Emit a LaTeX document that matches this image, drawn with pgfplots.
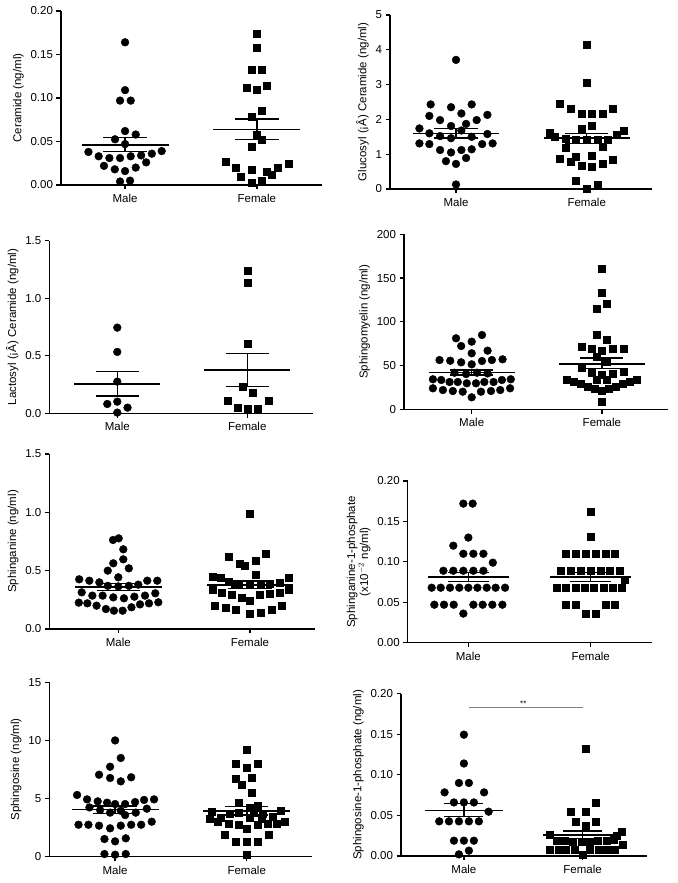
\documentclass[border=0pt]{standalone}
\usepackage{pgfplots}
\pgfplotsset{compat=1.18}
\usepackage{fontspec}
\setmainfont{Liberation Sans}
\newcommand\fsz{\fontsize{11.5}{13}\selectfont}

\pgfplotsset{
  dp/.style={scale only axis, anchor=south west, clip=false,
    axis lines*=left, axis line style={line width=1.3pt,-},
    tick align=outside, major tick length=4.5pt,
    tick style={line width=1.3pt, black},
    xtick={1,2}, xticklabels={Male,Female}, ymin=0,
    ticklabel style={font=\fsz}, label style={font=\fsz},
    /pgf/number format/assume math mode=true,
    xticklabel style={yshift=-1pt}},
  circ/.style={only marks, mark=*, mark size=3.9pt, black},
  sq/.style={only marks, mark=square*, mark size=3.5pt, black},
  stat/.style={black, line width=1.5pt, no marks, forget plot},
  dec2/.style={yticklabel style={/pgf/number format/.cd, fixed, fixed zerofill, precision=2}},
  dec1/.style={yticklabel style={/pgf/number format/.cd, fixed, fixed zerofill, precision=1}},
}
% mean and SEM: mean, lower, upper
\newcommand{\meanM}[3]{%
  \addplot[stat] coordinates {(0.67,#1) (1.33,#1)};
  \addplot[stat] coordinates {(0.835,#2) (1.165,#2)};
  \addplot[stat] coordinates {(0.835,#3) (1.165,#3)};
  \addplot[stat] coordinates {(1,#2) (1,#3)};}
\newcommand{\meanF}[3]{%
  \addplot[stat] coordinates {(1.67,#1) (2.33,#1)};
  \addplot[stat] coordinates {(1.835,#2) (2.165,#2)};
  \addplot[stat] coordinates {(1.835,#3) (2.165,#3)};
  \addplot[stat] coordinates {(2,#2) (2,#3)};}

\begin{document}
\begin{tikzpicture}
\path[use as bounding box] (0,0) rectangle (677pt,883pt);

% Ceramide
\begin{axis}[dp, dec2, at={(61pt,698pt)}, width=261pt, height=174pt,
  xmin=0.514, xmax=2.494, ymax=0.2, ytick={0,0.05,0.1,0.15,0.2},
  ylabel={Ceramide (ng/ml)}]
\addplot[circ] coordinates {(1,0.164)(1,0.109)(0.962,0.097)(1.043,0.097)(1,0.062)(1.081,0.058)(0.924,0.0525)(1,0.047)(0.722,0.038)(1.278,0.039)(0.8,0.033)(0.881,0.031)(0.962,0.031)(1.043,0.033)(1.122,0.034)(1.203,0.036)(1.16,0.026)(0.84,0.022)(0.922,0.018)(1,0.016)(1.081,0.020)(0.962,0.004)(1.038,0.005)};
\addplot[sq] coordinates {(2,0.174)(2,0.158)(1.957,0.132)(2.038,0.132)(1.919,0.1115)(2,0.109)(2.076,0.114)(2.038,0.085)(1.957,0.0785)(2,0.058)(2.038,0.0525)(1.957,0.0437)(1.76,0.0264)(1.838,0.0203)(2.238,0.0245)(2.157,0.020)(2.076,0.0153)(2.116,0.012)(1.957,0.0172)(1.878,0.0096)(1.957,0.003)(2.038,0.0046)};
\meanM{0.046}{0.0383}{0.0544}
\meanF{0.064}{0.052}{0.0759}
\end{axis}

% Glucosyl ceramide
\begin{axis}[dp, at={(390pt,694pt)}, width=261.7pt, height=174pt,
  xmin=0.495, xmax=2.497, ymax=5, ytick={0,1,2,3,4,5},
  ylabel={Glucosyl (¡Â) Ceramide (ng/ml)}]
\addplot[circ] coordinates {(1,3.71)(0.806,2.43)(0.962,2.35)(1.12,2.43)(0.796,2.10)(0.878,1.98)(1.041,2.17)(1.158,1.98)(1.24,2.13)(0.72,1.74)(0.962,1.81)(1.077,1.87)(0.796,1.60)(0.878,1.52)(1.041,1.68)(1.24,1.58)(0.962,1.46)(1.12,1.50)(0.72,1.31)(0.796,1.29)(1.2,1.29)(1.28,1.31)(0.878,1.12)(0.962,1.05)(1.041,1.12)(1.12,1.14)(0.923,0.80)(1,0.72)(1.077,0.89)(1,0.13)};
\addplot[sq] coordinates {(2,4.16)(2,3.04)(1.796,2.46)(1.878,2.30)(1.959,2.17)(2.041,2.17)(2.122,2.17)(2.2,2.32)(1.959,1.72)(2.041,1.81)(1.714,1.62)(2.28,1.67)(2.23,1.57)(1.758,1.50)(1.837,1.44)(1.918,1.41)(2,1.41)(2.082,1.41)(2.163,1.43)(1.837,1.19)(2.122,1.22)(1.796,0.86)(1.918,0.93)(2.041,0.96)(2.2,0.85)(1.878,0.77)(1.959,0.67)(2.041,0.64)(2.122,0.72)(1.918,0.24)(2.082,0.11)(2,0.0)};
\meanM{1.60}{1.47}{1.74}
\meanF{1.46}{1.31}{1.60}
\end{axis}

% Lactosyl ceramide
\begin{axis}[dp, dec1, at={(49.3pt,469.7pt)}, width=264pt, height=172.7pt,
  xmin=0.477, xmax=2.508, ymax=1.5, ytick={0,0.5,1,1.5},
  ylabel={Lactosyl (¡Â) Ceramide (ng/ml)}]
\addplot[circ] coordinates {(1,0.744)(1,0.533)(1,0.275)(0.923,0.081)(1,0.101)(1.079,0.049)(1,0.006)};
\addplot[sq] coordinates {(2,1.24)(2,1.13)(2,0.602)(1.962,0.232)(2.041,0.182)(1.846,0.110)(2.164,0.110)(1.923,0.052)(2,0.038)(2.082,0.043)};
\meanM{0.255}{0.151}{0.362}
\meanF{0.376}{0.232}{0.521}
\end{axis}

% Sphingomyelin
\begin{axis}[dp, at={(404pt,473.7pt)}, width=264.3pt, height=175pt,
  xmin=0.48, xmax=2.51, ymax=200, ytick={0,50,100,150,200},
  ylabel={Sphingomyelin (ng/ml)}]
\addplot[circ] coordinates {(0.88,81.1)(1,77.3)(1.079,84.9)(0.919,72.3)(1.122,67)(1,64)(0.753,56.3)(0.835,55.5)(0.919,53.7)(1,51.4)(1.079,55.2)(1.155,56.3)(1.237,57.1)(0.868,41.8)(0.957,40.3)(1.041,41.8)(1.122,41)(0.702,34.3)(0.766,33.5)(0.83,31.2)(0.893,31.2)(0.962,29.7)(1.033,29.7)(1.097,31.2)(1.168,31.2)(1.232,33.5)(1.3,34.3)(0.702,24)(0.779,22)(0.855,20.9)(0.931,20.1)(1.071,20.1)(1.148,20.9)(1.219,22)(1.295,24)(1,13.7)};
\addplot[sq] coordinates {(2,161)(2,133.3)(2.038,121)(1.962,115.4)(1.962,85)(2.038,80)(1.846,71.6)(1.923,69.7)(2,66.7)(2.085,69.7)(2.167,69.7)(1.962,60.2)(2.038,54)(1.846,47.6)(2.167,43.5)(1.923,41.5)(2.085,41)(2,39.2)(1.962,34.3)(2.038,34.3)(1.733,33.5)(1.786,31.6)(1.84,28.9)(1.893,25.9)(1.947,23.2)(2,21.3)(2.053,23.2)(2.107,25.9)(2.16,28.9)(2.214,31.6)(2.267,33.5)(2,8.7)};
\meanM{42.2}{39.2}{45}
\meanF{52}{46.9}{58.5}
\end{axis}

% Sphinganine
\begin{axis}[dp, dec1, at={(49.3pt,254pt)}, width=265.7pt, height=175pt,
  xmin=0.476, xmax=2.494, ymax=1.5, ytick={0,0.5,1,1.5},
  ylabel={Sphinganine (ng/ml)}]
\addplot[circ] coordinates {(0.96,0.763)(1.003,0.777)(1.038,0.683)(1.038,0.597)(0.962,0.563)(0.92,0.50)(1.08,0.52)(1,0.443)(0.703,0.426)(0.78,0.414)(1.22,0.414)(1.296,0.414)(0.856,0.40)(0.92,0.37)(1,0.365)(1.08,0.37)(1.152,0.38)(0.722,0.314)(0.803,0.286)(0.881,0.286)(0.962,0.271)(1.043,0.263)(1.122,0.277)(1.203,0.286)(1.281,0.306)(0.7,0.226)(0.765,0.22)(0.835,0.2)(0.906,0.171)(0.967,0.157)(1.033,0.157)(1.1,0.186)(1.165,0.211)(1.233,0.22)(1.304,0.229)};
\addplot[sq] coordinates {(2,0.991)(2.122,0.649)(1.838,0.62)(1.919,0.563)(1.962,0.543)(2.041,0.586)(2.041,0.469)(1.719,0.449)(1.78,0.443)(2.291,0.443)(1.835,0.406)(1.886,0.391)(1.911,0.377)(2,0.377)(2.081,0.377)(2.152,0.391)(2.228,0.397)(1.714,0.334)(2.294,0.334)(1.785,0.311)(1.861,0.291)(1.937,0.271)(2,0.243)(2.076,0.291)(2.147,0.306)(2.223,0.314)(1.734,0.2)(1.818,0.186)(1.894,0.163)(2,0.134)(2.081,0.143)(2.162,0.163)(2.241,0.2)};
\meanM{0.36}{0.329}{0.391}
\meanF{0.377}{0.346}{0.411}
\end{axis}

% Sphinganine-1-phosphate
\begin{axis}[dp, dec2, at={(407.7pt,240.3pt)}, width=244pt, height=161.7pt,
  xmin=0.504, xmax=2.499, ymax=0.2, ytick={0,0.05,0.1,0.15,0.2},
  ylabel={Sphinganine-1-phosphate\\(x10$^{-2}$ ng/ml)}, ylabel style={align=center}]
\addplot[circ] coordinates {(0.959,0.172)(1.035,0.172)(1,0.130)(0.877,0.120)(0.959,0.110)(1.041,0.110)(1.123,0.110)(1.2,0.099)(0.796,0.089)(0.877,0.089)(0.959,0.089)(1.041,0.089)(1.123,0.089)(0.7,0.068)(0.774,0.068)(0.85,0.068)(0.926,0.068)(1,0.068)(1.074,0.068)(1.15,0.068)(1.223,0.068)(1.3,0.068)(0.722,0.047)(0.801,0.047)(0.88,0.047)(1.041,0.047)(1.117,0.047)(1.196,0.047)(1.278,0.047)(0.959,0.036)};
\addplot[sq] coordinates {(2,0.162)(2,0.131)(1.796,0.110)(1.877,0.110)(1.959,0.110)(2.041,0.110)(2.123,0.110)(2.199,0.110)(1.755,0.089)(1.837,0.089)(1.918,0.089)(2,0.089)(2.082,0.089)(2.158,0.089)(2.234,0.089)(2.28,0.078)(1.722,0.068)(1.798,0.068)(1.875,0.068)(1.951,0.068)(2.027,0.068)(2.104,0.068)(2.18,0.068)(2.256,0.068)(1.796,0.047)(1.877,0.047)(2.123,0.047)(2.199,0.047)(1.959,0.036)(2.041,0.036)};
\meanM{0.081}{0.0755}{0.0866}
\meanF{0.081}{0.0755}{0.0866}
\end{axis}

% Sphingosine
\begin{axis}[dp, at={(49.3pt,26.3pt)}, width=263pt, height=174.4pt,
  xmin=0.5, xmax=2.498, ymax=15, ytick={0,5,10,15},
  ylabel={Sphingosine (ng/ml)}]
\addplot[circ] coordinates {(1,10.0)(1.043,8.49)(0.962,7.74)(0.878,7.05)(0.962,6.77)(1.043,6.48)(1.122,6.83)(0.711,5.31)(0.787,4.93)(0.868,4.76)(0.939,4.65)(1,4.53)(1.076,4.53)(1.152,4.7)(1.22,4.88)(1.296,4.93)(0.805,4.24)(0.886,4.01)(0.962,3.79)(1.043,3.95)(1.076,3.58)(1.157,3.79)(1.241,4.13)(0.722,2.75)(0.797,2.75)(0.878,2.67)(0.962,2.44)(1.043,2.67)(1.122,2.75)(1.198,2.75)(1.278,3.01)(0.919,1.52)(1,1.32)(1.081,1.58)(0.919,0.23)(1,0.17)(1.081,0.23)};
\addplot[sq] coordinates {(2,9.23)(1.919,7.97)(2.081,7.97)(2,7.69)(1.919,6.68)(2.041,6.77)(1.959,6.17)(2.041,5.51)(1.939,4.67)(2.081,4.39)(2.02,4.2)(1.73,3.87)(2.26,3.95)(1.94,3.8)(2.05,3.75)(2.12,3.72)(1.87,3.7)(1.8,3.35)(2.2,3.4)(1.72,3.25)(2.02,3.35)(2.11,3.3)(1.78,3.05)(2.29,3.05)(1.86,2.87)(2.16,2.87)(1.94,2.75)(2.08,2.75)(2.23,2.87)(2,2.4)(1.835,1.87)(2.165,1.87)(1.919,1.29)(2,1.29)(2.081,1.29)(2,0.2)};
\meanM{4.07}{3.70}{4.36}
\meanF{3.93}{3.58}{4.30}
\end{axis}

% Sphingosine-1-phosphate
\begin{axis}[dp, dec2, at={(401pt,27pt)}, width=245.7pt, height=162.3pt,
  xmin=0.47, xmax=2.54, ymax=0.2, ytick={0,0.05,0.1,0.15,0.2},
  ylabel={Sphingosine-1-phosphate (ng/ml)}]
\addplot[circ] coordinates {(1,0.1495)(1,0.114)(0.958,0.09)(1.042,0.09)(0.837,0.0784)(1.17,0.0784)(0.916,0.066)(1,0.066)(1.084,0.066)(1.208,0.0546)(0.792,0.0427)(0.874,0.0427)(0.958,0.0427)(1.042,0.0427)(1.126,0.0427)(0.916,0.0189)(1,0.0189)(1.084,0.0189)(1.042,0.0066)(0.958,0.002)};
\addplot[sq] coordinates {(2.028,0.132)(2.112,0.0657)(1.902,0.0546)(2.028,0.0546)(1.944,0.0427)(2.112,0.0427)(2.028,0.0374)(1.725,0.0259)(2.329,0.030)(2.287,0.025)(1.78,0.019)(1.85,0.019)(1.92,0.018)(1.99,0.018)(2.06,0.018)(2.13,0.019)(2.2,0.019)(2.265,0.02)(2.337,0.0136)(1.725,0.0074)(1.795,0.0074)(1.86,0.0074)(1.93,0.0074)(2.062,0.0074)(2.132,0.0074)(2.202,0.0074)(2.272,0.0074)(2,0.001)};
\meanM{0.0559}{0.0485}{0.0649}
\meanF{0.0259}{0.0218}{0.0308}
\addplot[gray, line width=0.7pt, forget plot] coordinates {(1.04,0.183)(2,0.183)};
\node[font=\fontsize{8}{9}\selectfont, anchor=south, inner sep=1pt] at (axis cs:1.5,0.183) {**};
\end{axis}
\end{tikzpicture}
\end{document}
